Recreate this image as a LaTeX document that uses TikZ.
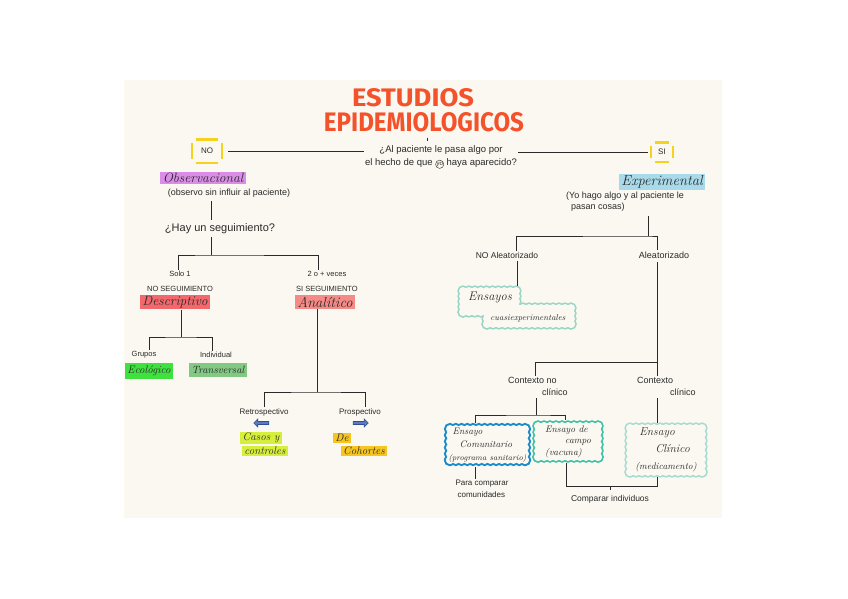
\documentclass[tikz,border=0pt]{standalone}
\usepackage{fontspec}
\setsansfont{Liberation Sans}
\newfontfamily\titlefont{Fira Sans}
\usetikzlibrary{shapes.arrows}
\definecolor{paper}{HTML}{FAF8F1}
\definecolor{ink}{HTML}{2A2A2A}
\definecolor{titlered}{HTML}{F4522B}
\definecolor{ymark}{HTML}{F6D21E}
\definecolor{violetmark}{HTML}{DB8CE6}
\definecolor{redA}{HTML}{F3686C}
\definecolor{redB}{HTML}{F58A86}
\definecolor{greenA}{HTML}{3FE13F}
\definecolor{greenB}{HTML}{82C983}
\definecolor{limemark}{HTML}{D6EF3C}
\definecolor{ambermark}{HTML}{F7C51F}
\definecolor{skyA}{HTML}{A9DAEA}
\definecolor{arrowblue}{HTML}{2C4E9E}
\definecolor{cloudA}{HTML}{1A8BCB}
\definecolor{cloudB}{HTML}{3FC3A6}
\definecolor{cloudC}{HTML}{A6DCD2}
\definecolor{cloudD}{HTML}{9AD6C8}
\tikzset{
  link/.style={draw=ink, line width=0.75pt},
  print/.style={text=ink, inner sep=1pt, font=\sffamily\fontsize{#1}{#1}\selectfont},
  print/.default=8,
  script/.style={text=ink, inner sep=1pt, font=\itshape\fontsize{#1}{#1}\selectfont},
  marker/.style={fill=#1, text=ink, inner xsep=2.5pt, inner ysep=1.5pt},
  yellowmark/.style={draw=ymark, line width=2.4pt},
  cloudtext/.style={text=ink, align=left, inner sep=5pt},
  titletext/.style={text=titlered, inner sep=0pt, font=\titlefont\bfseries},
  blockarrow/.style={single arrow, fill=arrowblue!75, draw=arrowblue, line width=0.6pt,
     minimum height=15pt, minimum width=8pt, single arrow head extend=1.5pt, inner sep=0.6pt},
}
\newcommand\yellowframe[1]{%
  \draw[yellowmark] ([xshift=4pt]#1.north west) -- ([xshift=-4pt]#1.north east);
  \draw[yellowmark] ([xshift=4pt]#1.south west) -- ([xshift=-4pt]#1.south east);
  \draw[yellowmark] ([yshift=-4pt]#1.north west) -- ([yshift=4pt]#1.south west);
  \draw[yellowmark] ([yshift=-4pt]#1.north east) -- ([yshift=4pt]#1.south east);}
% ring of small circles along a rectangle: #1 style, #2 x0, #3 y0, #4 x1, #5 y1
\newcommand\scallopring[5]{%
  \pgfmathtruncatemacro\scnx{max(2,round((#4-#2)/6))}%
  \pgfmathtruncatemacro\scny{max(2,round((#5-#3)/6))}%
  \foreach \i in {0,...,\scnx}{%
    \path[#1] ({#2+\i*(#4-#2)/\scnx},#3) circle[radius=4];
    \path[#1] ({#2+\i*(#4-#2)/\scnx},#5) circle[radius=4];}%
  \foreach \i in {1,...,\scny}{%
    \path[#1] (#2,{#3+\i*(#5-#3)/\scny}) circle[radius=4];
    \path[#1] (#4,{#3+\i*(#5-#3)/\scny}) circle[radius=4];}%
}
% scalloped cloud: #1 colour, #2 double stroke width, #3..#6 inner rectangle
\newcommand\cloudblob[6]{%
  \scallopring{draw=#1, line width=#2}{#3}{#4}{#5}{#6}%
  \scallopring{fill=paper}{#3}{#4}{#5}{#6}%
  \fill[paper] (#3,#4) rectangle (#5,#6);}
\begin{document}
\begin{tikzpicture}[x=1pt,y=-1pt]
\useasboundingbox (0,0) rectangle (848,599);
\fill[white] (0,0) rectangle (848,599);
\fill[paper] (124,80) rectangle (722,518);

% title
\node[titletext] (t1) at (413,98) {\resizebox{122pt}{18pt}{ESTUDIOS}};
\node[titletext] (t2) at (424,122) {\resizebox{200pt}{19pt}{EPIDEMIOLOGICOS}};

% question and yes/no
\node[print=9.5, align=center, font=\sffamily\fontsize{9.5}{13}\selectfont] (q) at (441,157)
  {¿Al paciente le pasa algo por\\el hecho de que \tikz[baseline=(yo.base)]\node[draw=ink,circle,inner sep=0.2pt,font=\sffamily\fontsize{6}{6}\selectfont] (yo) {yo}; haya aparecido?};
\node[print=8, minimum width=30pt, minimum height=23pt, inner sep=0pt] (no) at (207,151) {NO};
\node[print=8, minimum width=22pt, minimum height=19pt, inner sep=0pt] (si) at (662,152) {SI};
\yellowframe{no}
\yellowframe{si}
\coordinate (tq) at (427,0);
\draw[link, shorten <=6pt, shorten >=3pt] (t2.south -| tq) -- (q.north -| tq);
\draw[link, shorten <=6pt] (no.east) -- (no.east -| q.west);
\draw[link, shorten >=3pt] (q.east |- si.west) -- (si.west);

% left branch
\node[marker=violetmark, font=\itshape\fontsize{13.5}{13.5}\selectfont] (obs) at (203,178) {Observacional};
\node[print=9] (obsn) at (229,193) {(observo sin influir al paciente)};
\node[print=11] (hay) at (220,229) {¿Hay un seguimiento?};
\coordinate (c1) at (211,0);
\draw[link, shorten <=3pt, shorten >=3pt] (obsn.south -| c1) -- (hay.north -| c1);
\node[align=center, text=ink, inner sep=1pt, font=\sffamily\fontsize{7.5}{15}\selectfont] (solo) at (180,281) {Solo 1\\NO SEGUIMIENTO};
\node[align=center, text=ink, inner sep=1pt, font=\sffamily\fontsize{7.5}{15}\selectfont] (dos) at (327,281) {2 o + veces\\SI SEGUIMIENTO};
\coordinate (bh) at (211,255);
\draw[link, shorten <=2pt] (hay.south -| bh) -- (bh);
\draw[link] ([xshift=-2pt]solo.north) |- (bh) -| ([xshift=-9pt]dos.north);

\node[marker=redA, font=\itshape\fontsize{13.5}{13.5}\selectfont] (desc) at (175,302) {Descriptivo};
\node[marker=redB, font=\itshape\fontsize{14.5}{14.5}\selectfont] (ana) at (325,302) {Analítico};

\node[print=7.5] (grupos) at (144,355) {Grupos};
\node[print=7.5] (indiv) at (216,355) {Individual};
\coordinate (bd) at (181,337);
\draw[link] (desc.south -| bd) -- (bd);
\draw[link] ([xshift=5pt]grupos.north) |- (bd) -| ([xshift=-4pt]indiv.north);
\node[marker=greenA, inner ysep=3pt, font=\itshape\fontsize{11}{11}\selectfont] (eco) at (149,371) {Ecológico};
\node[marker=greenB, inner ysep=3pt, font=\itshape\fontsize{10.5}{10.5}\selectfont] (trans) at (218,370) {Transversal};

\node[print=8] (retro) at (264,412) {Retrospectivo};
\node[print=8] (pros) at (360,412) {Prospectivo};
\coordinate (ba) at (317,392);
\draw[link] (ana.south -| ba) -- (ba);
\draw[link] (retro.north) |- (ba) -| ([xshift=5pt]pros.north);
\node[blockarrow, shape border rotate=180] (arrL) at (262,423) {};
\node[blockarrow] (arrR) at (360,423) {};
\node[marker=limemark, font=\itshape\fontsize{11}{11}\selectfont] (casos) at (261,438) {Casos y};
\node[marker=limemark, font=\itshape\fontsize{11}{11}\selectfont] (contr) at (265,451) {controles};
\node[marker=ambermark, font=\itshape\fontsize{11}{11}\selectfont] (de) at (342,438) {De};
\node[marker=ambermark, font=\itshape\fontsize{11}{11}\selectfont] (coh) at (364,451) {Cohortes};

% right branch
\node[marker=skyA, font=\itshape\fontsize{14.5}{14.5}\selectfont] (exp) at (662,182) {Experimental};
\node[anchor=west, align=left, text=ink, inner sep=1pt, font=\sffamily\fontsize{9}{11}\selectfont] (expn) at (565,202) {(Yo hago algo y al paciente le\\\hspace*{5pt}pasan cosas)};
\coordinate (be) at (648,236);
\draw[link, shorten <=3pt] (expn.south -| be) -- (be);
\node[print=8.5] (noal) at (507,255) {NO Aleatorizado};
\node[print=9] (al) at (664,255) {Aleatorizado};
\draw[link] ([xshift=9pt]noal.north) |- (be) -| ([xshift=-7pt]al.north);

% cuasi cloud (union of two scalloped blocks)
\scallopring{draw=cloudD, line width=3.2pt}{463}{291}{516}{312}
\scallopring{draw=cloudD, line width=3.2pt}{487}{308}{571}{324}
\scallopring{fill=paper}{463}{291}{516}{312}
\scallopring{fill=paper}{487}{308}{571}{324}
\fill[paper] (463,291) rectangle (516,312);
\fill[paper] (487,308) rectangle (571,324);
\node[script=12.5] (ens) at (490,298) {Ensayos};
\node[script=8.5] (cuasi) at (528,318) {cuasiexperimentales};
\coordinate (cuasitop) at (517,286);
\draw[link, shorten <=2pt] (noal.south -| cuasitop) -- (cuasitop);

\node[anchor=west, align=left, text=ink, inner sep=1pt, font=\sffamily\fontsize{9}{12}\selectfont] (cnc) at (507,386) {Contexto no\\\hspace*{34pt}clínico};
\node[anchor=west, align=left, text=ink, inner sep=1pt, font=\sffamily\fontsize{9}{12}\selectfont] (cc) at (636,386) {Contexto\\\hspace*{33pt}clínico};
\coordinate (bal) at (657,362);
\coordinate (bcn) at (535,362);
\draw[link, shorten <=2pt] (al.south -| bal) -- (cc.north -| bal);
\draw[link] (bal) -- (bcn) -- (cnc.north -| bcn);

% trial clouds
\cloudblob{cloudA}{4pt}{450}{429}{525}{460}
\cloudblob{cloudB}{3.4pt}{538}{426}{598}{457}
\cloudblob{cloudC}{3.2pt}{630}{428}{702}{472}
\node[cloudtext, minimum width=85pt, minimum height=42pt, font=\itshape\fontsize{9.5}{13}\selectfont] (comu) at (487.5,445)
  {\hspace*{4pt}Ensayo\\\hspace*{11pt}Comunitario\\{\fontsize{8}{8}\selectfont(programa sanitario)}};
\node[cloudtext, minimum width=70pt, minimum height=41pt, font=\itshape\fontsize{9.5}{11.5}\selectfont] (campo) at (568,441.5)
  {Ensayo de\\\hspace*{20pt}campo\\(vacuna)};
\node[cloudtext, minimum width=82pt, minimum height=54pt, font=\itshape\fontsize{11.5}{17}\selectfont] (clin) at (666,450)
  {\hspace*{4pt}Ensayo\\\hspace*{20pt}Clínico\\{\fontsize{9.5}{9.5}\selectfont(medicamento)}};

\coordinate (bc) at (536,415);
\draw[link, shorten <=2pt] (cnc.south -| bc) -- (bc);
\draw[link] ([xshift=-12.5pt]comu.north) |- (bc) -| ([xshift=-3pt]campo.north);
\draw[link, shorten <=2pt] (cc.south -| bal) -- (clin.north -| bal);

\node[align=left, text=ink, inner sep=1pt, font=\sffamily\fontsize{8}{12}\selectfont] (para) at (482,489) {Para comparar\\\hspace*{2pt}comunidades};
\node[print=8.5] (comp) at (610,499) {Comparar individuos};
\coordinate (bp) at (475,0);
\draw[link] (comu.south -| bp) -- (para.north -| bp);
\coordinate (bq) at (566,486);
\draw[link] (campo.south -| bq) -- (bq) -- (bq -| bal) -- (clin.south -| bal);
\draw[link, shorten >=4pt] (comp.north |- bq) -- (comp.north);
\end{tikzpicture}
\end{document}
